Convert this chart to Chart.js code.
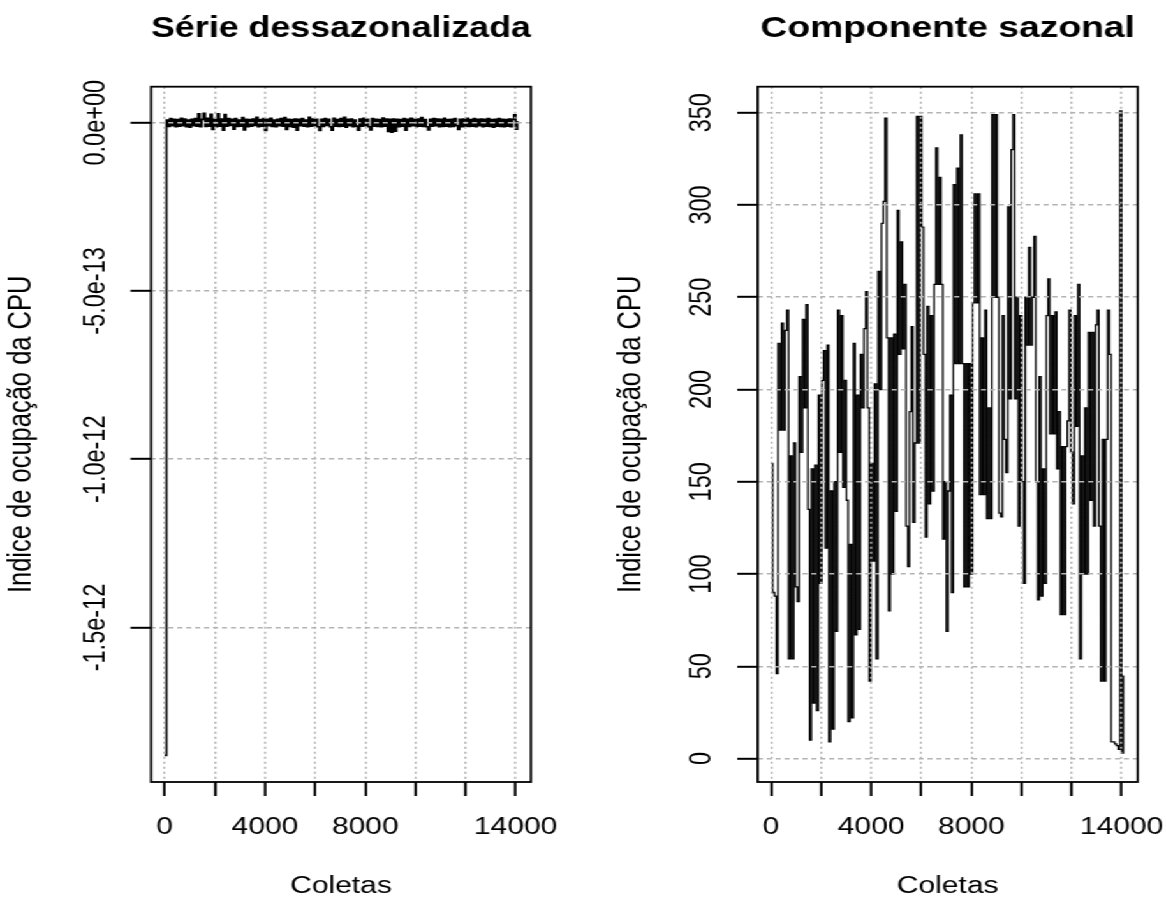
<!DOCTYPE html>
<html>
<head>
<meta charset="utf-8">
<script src="https://cdn.jsdelivr.net/npm/chart.js@4.4.0/dist/chart.umd.min.js"></script>
<style>
html, body { margin: 0; padding: 0; background: #fff; overflow: hidden; }
/* the reference picture is stretched sideways, so the two charts are drawn narrow and widened */
#wrap { position: absolute; left: 0; top: 0; width: 914px; height: 898px; transform: scaleX(1.2757); transform-origin: 0 0; }
canvas { position: absolute; top: 0; }
#esq { left: 0; }
#dir { left: 457px; }
</style>
</head>
<body>
<div id="wrap">
  <canvas id="esq" width="457" height="898"></canvas>
  <canvas id="dir" width="457" height="898"></canvas>
</div>
<script>
// one reading every 70 collections
const passoColetas = 70;

const xTicks = [0, 2000, 4000, 6000, 8000, 10000, 12000, 14000];
const xTickLabels = ["0", "", "4000", "", "8000", "", "", "14000"];

const yTicksEsq = [-1.5e-12, -1e-12, -5e-13, 0];
const yTickLabelsEsq = ["-1.5e-12", "-1.0e-12", "-5.0e-13", "0.0e+00"];

const yTicksDir = [0, 50, 100, 150, 200, 250, 300, 350];
const yTickLabelsDir = ["0", "50", "100", "150", "200", "250", "300", "350"];

// deseasonalized series, in units of 1e-14
const escalaEsq = 1e-14;
const serieDessazonalizada = [
    -188, 0.8, -1.1, 1.2, -0.9, 1.0, -1.2, 0.9, -1.0, 1.3,
    -0.9, 1.1, -1.2, 0.8, -1.3, 1.0, -0.9, 1.2, -1.0, 2.6,
    -1.2, 1.0, 2.8, -1.1, 1.3, -1.0, 2.5, -2.0, 1.0, -1.2,
    2.6, -1.0, 1.1, -2.2, 2.4, -1.0, 1.2, -0.8, 1.0, -1.9,
    1.2, -1.1, 0.8, -1.0, 1.5, -2.1, 1.0, -1.2, 0.9, -1.0,
    1.1, -0.8, 1.6, -1.2, 0.9, -1.0, 1.2, -2.3, 1.0, -0.9,
    1.3, -1.1, 0.8, -1.2, 1.0, -0.9, 1.2, -1.0, 1.5, -2.0,
    1.0, -1.1, 0.9, -1.3, 1.1, -2.2, 1.0, -0.9, 1.2, -1.0,
    0.8, -1.2, 1.6, -1.0, 1.1, -0.9, 1.0, -1.2, -2.3, 1.0,
    -1.1, 1.2, -0.8, 1.0, -1.2, -2.2, 1.3, -1.0, 0.9, -1.1,
    1.2, -1.0, 1.6, -1.3, 1.0, -0.9, 1.1, -1.2, 0.8, -1.0,
    -2.2, 1.1, -1.0, 1.3, -0.9, 1.0, -1.2, -2.1, 1.2, -1.0,
    1.0, -1.1, 0.9, -1.2, 1.4, -1.0, 1.1, -2.6, 1.0, -2.8,
    1.1, -2.5, 1.0, -1.2, 0.9, -1.0, 1.2, -2.2, 1.0, -1.1,
    1.3, -0.9, 1.0, -1.2, 1.1, -1.0, 1.5, -1.1, 0.9, -1.2,
    -2.1, 1.0, -1.0, 1.2, -0.9, 1.1, -1.2, 1.0, -1.1, 1.3,
    -1.0, 0.9, -1.2, 1.0, -1.1, 1.2, -0.9, -2.0, 1.0, -1.2,
    1.1, -1.0, 1.3, -1.1, 0.9, -1.0, 1.2, -1.2, 1.0, -0.9,
    1.1, -1.2, 1.0, -1.0, 1.2, -1.1, 0.9, -1.3, 1.0, -1.0,
    1.2, -1.1, 1.0, -1.2, 0.9, -1.0, 1.1, -1.2, 1.0, 2.3,
    -1.9, 0.5
];

// seasonal component
const componenteSazonal = [
    160, 90, 88, 46, 225, 178, 236, 178, 232, 243,
    54, 164, 54, 171, 93, 85, 207, 166, 238, 190,
    246, 135, 10, 157, 30, 159, 26, 197, 95, 205,
    221, 114, 224, 9, 145, 16, 150, 69, 243, 166,
    240, 147, 205, 140, 20, 116, 22, 225, 67, 197,
    70, 219, 190, 233, 253, 190, 42, 160, 107, 203,
    54, 264, 200, 290, 302, 347, 228, 80, 228, 100,
    230, 134, 297, 219, 280, 222, 257, 126, 104, 188,
    234, 128, 171, 348, 171, 348, 288, 219, 120, 245,
    138, 240, 145, 257, 331, 257, 315, 257, 119, 150,
    69, 145, 197, 90, 311, 214, 320, 214, 338, 214,
    93, 214, 93, 214, 100, 247, 306, 247, 306, 143,
    228, 143, 243, 130, 190, 130, 349, 250, 349, 250,
    133, 131, 240, 173, 155, 299, 195, 330, 349, 195,
    250, 126, 240, 150, 95, 250, 224, 277, 224, 250,
    283, 150, 86, 207, 88, 157, 95, 240, 260, 176,
    240, 176, 242, 157, 188, 78, 169, 78, 169, 183,
    243, 166, 138, 240, 180, 257, 54, 164, 100, 190,
    100, 231, 140, 231, 126, 235, 243, 126, 42, 173,
    42, 173, 243, 219, 9, 9, 8, 7, 5, 351,
    3, 45
];

const familia = "'Liberation Sans', Arial, sans-serif";
const tamanhoFonte = 23.5;
Chart.defaults.color = "#000";

// width of the widest tick label, used to centre the rotated y labels
function larguraMax(labels) {
    const ctx = document.createElement("canvas").getContext("2d");
    ctx.font = tamanhoFonte + "px " + familia;
    return Math.max(...labels.map((l) => ctx.measureText(l).width));
}

// R-style box around the plot region
const caixa = {
    id: "caixa",
    afterDraw(chart) {
        const { ctx, chartArea: a } = chart;
        ctx.save();
        ctx.strokeStyle = "#000";
        ctx.lineWidth = 1.8;
        ctx.strokeRect(a.left, a.top, a.right - a.left, a.bottom - a.top);
        ctx.restore();
    },
};

function grafico(id, cfg) {
    const fonte = { family: familia, size: tamanhoFonte, lineHeight: 1 };
    const tlY = 16;
    const tlX = 14;
    const padY = cfg.distRotulo - tlY - larguraMax(cfg.yLabels) / 2;
    const corGrade = "#b4b4b4";

    return new Chart(document.getElementById(id), {
        type: "line",
        data: {
            datasets: [
                {
                    data: cfg.valores.map((v, i) => ({ x: i * passoColetas, y: v * cfg.escala })),
                    borderColor: "#000",
                    borderWidth: cfg.espessura,
                    pointRadius: 0,
                    stepped: true,
                    tension: 0,
                },
            ],
        },
        options: {
            responsive: false,
            animation: false,
            events: [],
            layout: { padding: { left: 0, right: cfg.padDir, top: 0, bottom: 0 } },
            plugins: {
                legend: { display: false },
                tooltip: { enabled: false },
                title: {
                    display: true,
                    text: cfg.titulo,
                    fullSize: false,
                    color: "#000",
                    font: { family: familia, size: 29.2, weight: "bold", lineHeight: 1 },
                    padding: { top: 14.6, bottom: 42.9 },
                },
            },
            scales: {
                x: {
                    type: "linear",
                    min: cfg.xMin,
                    max: cfg.xMax,
                    afterFit: (s) => {
                        s.height = 116;
                        s.paddingLeft = 0;
                        s.paddingRight = 0;
                    },
                    afterBuildTicks: (s) => { s.ticks = xTicks.map((v) => ({ value: v })); },
                    ticks: {
                        autoSkip: false,
                        maxRotation: 0,
                        minRotation: 0,
                        padding: 20,
                        font: fonte,
                        color: "#000",
                        callback: (v, i) => xTickLabels[i],
                    },
                    grid: {
                        z: 1,
                        color: corGrade,
                        lineWidth: 1.6,
                        drawTicks: true,
                        tickLength: tlX,
                        tickColor: "#000",
                        tickWidth: 2,
                        tickBorderDash: [],
                    },
                    border: { display: false, dash: [2, 3] },
                    title: { display: true, text: "Coletas", color: "#000", font: fonte, padding: { top: 0, bottom: 0 } },
                },
                y: {
                    type: "linear",
                    min: cfg.yMin,
                    max: cfg.yMax,
                    afterFit: (s) => {
                        s.width = cfg.areaEsq;
                        s.paddingTop = 0;
                        s.paddingBottom = 0;
                    },
                    afterBuildTicks: (s) => { s.ticks = cfg.yTicks.map((v) => ({ value: v })); },
                    ticks: {
                        autoSkip: false,
                        minRotation: 90,
                        maxRotation: 90,
                        crossAlign: "center",
                        padding: padY,
                        font: fonte,
                        color: "#000",
                        callback: (v, i) => cfg.yLabels[i],
                    },
                    grid: {
                        z: 1,
                        color: corGrade,
                        lineWidth: 1.6,
                        drawTicks: true,
                        tickLength: tlY,
                        tickColor: "#000",
                        tickWidth: 2,
                        tickBorderDash: [],
                    },
                    border: { display: false, dash: [4, 3] },
                    title: {
                        display: true,
                        text: "Indice de ocupação da CPU",
                        color: "#000",
                        font: { family: familia, size: 25.5, lineHeight: 1 },
                        padding: { top: cfg.padTituloY, bottom: 0 },
                    },
                },
            },
        },
        plugins: [caixa],
    });
}

grafico("esq", {
    titulo: "Série dessazonalizada",
    valores: serieDessazonalizada,
    escala: escalaEsq,
    espessura: 1.7,
    yTicks: yTicksEsq,
    yLabels: yTickLabelsEsq,
    yMin: -1.959e-12,
    yMax: 1.07e-13,
    xMin: -546,
    xMax: 14610,
    areaEsq: 118.4,
    padDir: 40.8,
    distRotulo: 42.6,
    padTituloY: 4.4,
});

grafico("dir", {
    titulo: "Componente sazonal",
    valores: componenteSazonal,
    escala: 1,
    espessura: 1.3,
    yTicks: yTicksDir,
    yLabels: yTickLabelsDir,
    yMin: -12.7,
    yMax: 364.1,
    xMin: -531,
    xMax: 14639,
    areaEsq: 136.95,
    padDir: 22.2,
    distRotulo: 43.0,
    padTituloY: 25.6,
});
</script>
</body>
</html>
